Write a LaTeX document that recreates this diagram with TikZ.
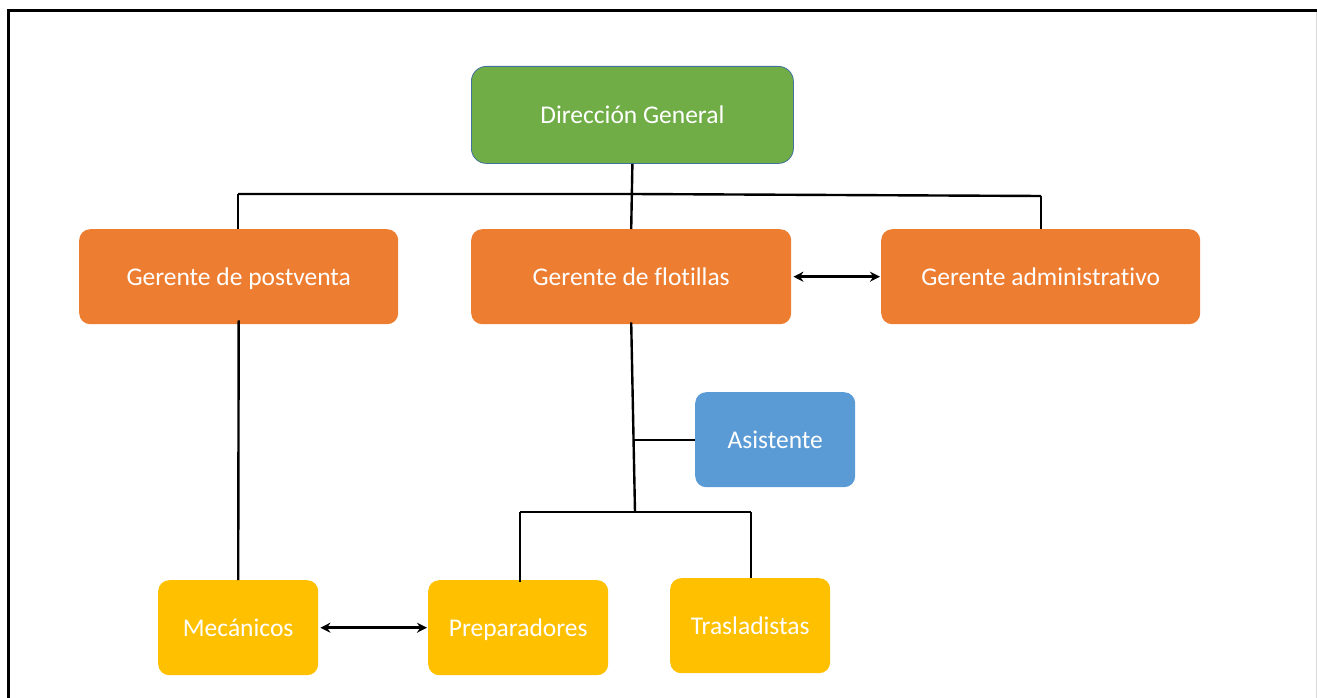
\documentclass[tikz,border=0pt]{standalone}
\usepackage{fontspec}
\setmainfont[Ligatures=NoCommon]{Carlito}
\usetikzlibrary{arrows.meta}
\definecolor{dgreen}{HTML}{70AD47}
\definecolor{dgreenline}{HTML}{41719C}
\definecolor{morange}{HTML}{ED7D31}
\definecolor{mblue}{HTML}{5B9BD5}
\definecolor{myellow}{HTML}{FFC000}
\tikzset{
  box/.style={rounded corners=11pt, inner sep=0pt, text=white,
    font=\fontsize{25.5}{28}\selectfont, anchor=north west,
    text height=21pt, text depth=4pt},
  link/.style={line width=2.4pt, black},
  both/.style={line width=2.8pt, {Stealth[length=10pt,width=10pt]}-{Stealth[length=10pt,width=10pt]}},
}
\begin{document}
\begin{tikzpicture}[x=1pt,y=-1pt]
\useasboundingbox (0,0) rectangle (1317,698);
% outer frame, running past the right and bottom edges
\begin{scope}
\clip (0,0) rectangle (1317,698);
\draw[line width=3pt] (8.5,10.5) rectangle (1340,720);
\draw[line width=1pt, black!15] (1316.5,12) -- (1316.5,698);
\end{scope}

% boxes
\node[box, fill=dgreen, draw=dgreenline, line width=0.8pt, rounded corners=15pt,
  minimum width=322pt, minimum height=97pt] (dg) at (471,66) {Dirección General};
\node[box, fill=morange, minimum width=319pt, minimum height=95pt] (gp) at (79,229) {Gerente de postventa};
\node[box, fill=morange, minimum width=320pt, minimum height=95pt] (gf) at (471,229) {Gerente de flotillas};
\node[box, fill=morange, minimum width=319pt, minimum height=95pt] (ga) at (881,229) {Gerente administrativo};
\node[box, fill=mblue, minimum width=160pt, minimum height=95pt] (as) at (695,392) {Asistente};
\node[box, fill=myellow, minimum width=160pt, minimum height=95pt] (me) at (158,580) {Mecánicos};
\node[box, fill=myellow, minimum width=180pt, minimum height=95pt] (pr) at (428,580) {Preparadores};
\node[box, fill=myellow, minimum width=160pt, minimum height=95pt] (tr) at (670,578) {Trasladistas};

% junction points
\coordinate (j0) at (632,194);
\coordinate (jl) at (238,194);
\coordinate (jr) at (1041,196);
\coordinate (ja) at (634,440);
\coordinate (jb) at (635,512);
\coordinate (jbl) at (520,512);
\coordinate (jbr) at (751,512);

% top level
\draw[link] (dg.south) -- (gf.north);
\draw[link] (jl) -- (j0) -- (jr);
\draw[link] (jl) -- (jl |- gp.north);
\draw[link] (jr) -- (jr |- ga.north);

% postventa to mecanicos
\draw[link] ([yshift=4pt]gp.south) -- (me.north);

% flotillas branch
\draw[link] ([yshift=2pt]gf.south) -- (jb);
\draw[link] (ja) -- (ja -| as.west);
\draw[link] (jbl) -- (jbr);
\draw[link] (jbl) -- ([yshift=-2pt]jbl |- pr.north);
\draw[link] (jbr) -- (jbr |- tr.north);

% peer relations
\draw[both] ([xshift=2pt]gf.east) -- ([xshift=-1pt]ga.west);
\draw[both] ([xshift=2pt]me.east) -- ([xshift=-1pt]pr.west);
\end{tikzpicture}
\end{document}
